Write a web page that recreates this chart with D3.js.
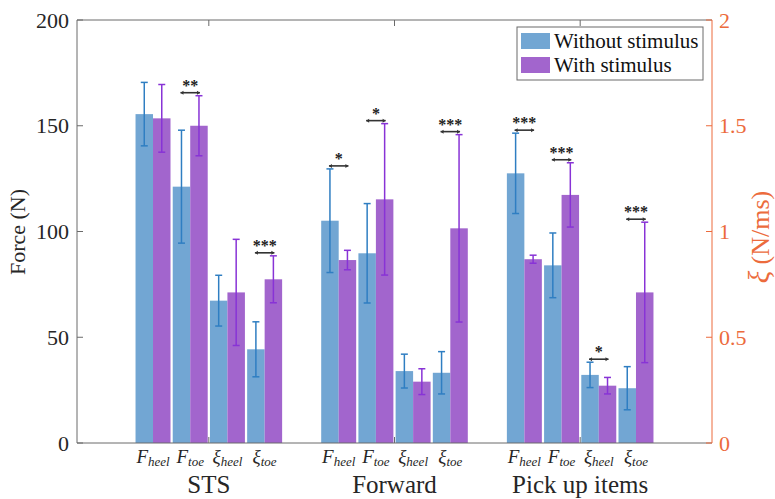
<!DOCTYPE html>
<html>
<head>
<meta charset="utf-8">
<script src="https://cdn.jsdelivr.net/npm/d3@7"></script>
<style>
  html, body { margin: 0; padding: 0; background: #fff; }
  svg { display: block; }
  svg text, svg tspan { font-family: "Liberation Serif" !important; }
</style>
</head>
<body>
<svg id="chart" width="775" height="499"></svg>
<script>
// ---------- data ----------
const groups = ["STS", "Forward", "Pick up items"];
const categories = ["Fheel", "Ftoe", "xiheel", "xitoe"];
const categoryLabels = [
  { base: "F", sub: "heel" }, { base: "F", sub: "toe" },
  { base: "ξ", sub: "heel" }, { base: "ξ", sub: "toe" }
];
const series = ["Without stimulus", "With stimulus"];
// Force in N (first two categories), ξ in N/ms (last two categories)
const withoutMean = [[155.5, 121.2, 0.673, 0.443], [105.1, 89.7, 0.340, 0.332], [127.5, 84.0, 0.322, 0.259]];
const withoutSD   = [[15.0, 26.7, 0.120, 0.130], [24.5, 23.5, 0.080, 0.100], [19.0, 15.3, 0.060, 0.102]];
const withMean    = [[153.5, 150.0, 0.712, 0.774], [86.5, 115.2, 0.290, 1.015], [86.9, 117.3, 0.271, 0.712]];
const withSD      = [[16.0, 14.2, 0.251, 0.111], [4.6, 35.8, 0.061, 0.443], [1.9, 15.2, 0.039, 0.332]];
const leftTicks = [0, 50, 100, 150, 200];
const rightTicks = [0, 0.5, 1, 1.5, 2];
const significance = [
  { g: 0, c: 1, label: "**" }, { g: 0, c: 3, label: "***" },
  { g: 1, c: 0, label: "*" }, { g: 1, c: 1, label: "*" }, { g: 1, c: 3, label: "***" },
  { g: 2, c: 0, label: "***" }, { g: 2, c: 1, label: "***" }, { g: 2, c: 2, label: "*" }, { g: 2, c: 3, label: "***" }
];

// ---------- styles ----------
const barColors = ["#72A6D3", "#A265CD"];
const errColors = ["#2F7EC2", "#8833D6"];
const axisGray = "#6a6a6a";
const orange = "#EC6B3C";

const L = 77, R = 712, T = 20, B = 443;
const svg = d3.select("#chart");

const yLeft = d3.scaleLinear().domain([0, 200]).range([B, T]);
const yRight = d3.scaleLinear().domain([0, 2]).range([B, T]);
const xGroup = d3.scaleLinear().domain([0.29, 3.71]).range([L, R]);
const xCat = d3.scaleBand().domain(categories).range([-73.3, 73.3]).paddingInner(0.06);
const xSer = d3.scaleBand().domain(series).range([0, xCat.bandwidth()]);

function yFor(ci) { return ci < 2 ? yLeft : yRight; }
function txt(sel) { return sel.append("text").style("font-family", '"Liberation Serif"'); }

// flatten records
const records = [];
groups.forEach((g, gi) => {
  categories.forEach((c, ci) => {
    [[withoutMean, withoutSD], [withMean, withSD]].forEach(([m, s], si) => {
      records.push({ gi, ci, si, mean: m[gi][ci], sd: s[gi][ci] });
    });
  });
});
function xLeft(r) { return xGroup(r.gi + 1) + xCat(categories[r.ci]) + xSer(series[r.si]); }
function xMid(r) { return xLeft(r) + xSer.bandwidth() / 2; }

// bars
svg.append("g").selectAll("rect").data(records).join("rect")
  .attr("x", d => xLeft(d))
  .attr("width", xSer.bandwidth())
  .attr("y", d => yFor(d.ci)(d.mean))
  .attr("height", d => B - yFor(d.ci)(d.mean))
  .attr("fill", d => barColors[d.si]);

// error bars
const eb = svg.append("g").attr("stroke-width", 1.5);
records.forEach(d => {
  const y = yFor(d.ci), x = xMid(d), cw = 3.5;
  const y1 = y(d.mean + d.sd), y0 = y(d.mean - d.sd);
  const col = errColors[d.si];
  eb.append("line").attr("x1", x).attr("x2", x).attr("y1", y1).attr("y2", y0).attr("stroke", col);
  eb.append("line").attr("x1", x - cw).attr("x2", x + cw).attr("y1", y1).attr("y2", y1).attr("stroke", col);
  eb.append("line").attr("x1", x - cw).attr("x2", x + cw).attr("y1", y0).attr("y2", y0).attr("stroke", col);
});

// significance brackets
const sg = svg.append("g");
significance.forEach(s => {
  const rs = records.filter(r => r.gi === s.g && r.ci === s.c);
  const y = yFor(s.c);
  const top = d3.min(rs, r => y(r.mean + r.sd)) - 3;
  const x0 = xMid(rs[0]) - 1, x1 = xMid(rs[1]) + 1;
  sg.append("line").attr("x1", x0).attr("x2", x1).attr("y1", top).attr("y2", top)
    .attr("stroke", "#333").attr("stroke-width", 1.6);
  sg.append("path").attr("d", `M${x0},${top}l3,-2v4z M${x1},${top}l-3,-2v4z`).attr("fill", "#333");
  txt(sg).attr("x", (x0 + x1) / 2).attr("y", top - 2)
    .attr("text-anchor", "middle").style("font-size", "16px").style("font-weight", "bold")
    .attr("fill", "#222").text(s.label);
});

// axes frame
const ax = svg.append("g");
ax.append("line").attr("x1", L).attr("x2", R).attr("y1", T).attr("y2", T).attr("stroke", axisGray);
ax.append("line").attr("x1", L).attr("x2", R).attr("y1", B).attr("y2", B).attr("stroke", axisGray);
ax.append("line").attr("x1", L).attr("x2", L).attr("y1", T).attr("y2", B).attr("stroke", axisGray);
ax.append("line").attr("x1", R).attr("x2", R).attr("y1", T).attr("y2", B).attr("stroke", orange);

// left ticks
leftTicks.forEach(t => {
  ax.append("line").attr("x1", L).attr("x2", L + 6).attr("y1", yLeft(t)).attr("y2", yLeft(t)).attr("stroke", axisGray);
  txt(ax).attr("x", L - 8).attr("y", yLeft(t)).attr("dy", "0.35em")
    .attr("text-anchor", "end").style("font-size", "22px").attr("fill", "#262626").text(t);
});
// right ticks
rightTicks.forEach(t => {
  ax.append("line").attr("x1", R - 6).attr("x2", R).attr("y1", yRight(t)).attr("y2", yRight(t)).attr("stroke", orange);
  txt(ax).attr("x", R + 7).attr("y", yRight(t)).attr("dy", "0.35em")
    .attr("text-anchor", "start").style("font-size", "22px").attr("fill", orange).text(t);
});
// group ticks (top and bottom, inward) and labels
groups.forEach((g, gi) => {
  const x = xGroup(gi + 1);
  ax.append("line").attr("x1", x).attr("x2", x).attr("y1", B).attr("y2", B - 6).attr("stroke", axisGray);
  ax.append("line").attr("x1", x).attr("x2", x).attr("y1", T).attr("y2", T + 6).attr("stroke", axisGray);
  txt(ax).attr("x", x).attr("y", 493).attr("text-anchor", "middle")
    .style("font-size", "25px").attr("fill", "#262626").text(g);
  categoryLabels.forEach((cl, ci) => {
    const cx = x + xCat(categories[ci]) + xCat.bandwidth() / 2;
    const t = txt(ax).attr("x", cx).attr("y", 463).attr("text-anchor", "middle")
      .attr("fill", "#262626").style("font-style", "italic");
    t.append("tspan").style("font-size", "19px").text(cl.base);
    t.append("tspan").style("font-size", "13px").attr("dy", 3).text(cl.sub);
  });
});

// axis labels
txt(svg).attr("transform", `translate(25,232) rotate(-90)`)
  .attr("text-anchor", "middle").style("font-size", "22px").attr("fill", "#262626").text("Force (N)");
const rl = txt(svg).attr("transform", `translate(769,237) rotate(-90)`)
  .attr("text-anchor", "middle").style("font-size", "26px").attr("fill", orange);
rl.append("tspan").style("font-style", "italic").style("font-size", "29px").text("ξ");
rl.append("tspan").text(" (N/ms)");

// legend
const lg = svg.append("g");
lg.append("rect").attr("x", 517).attr("y", 27).attr("width", 186).attr("height", 53)
  .attr("fill", "#fff").attr("stroke", "#6a6a6a");
series.forEach((s, si) => {
  const y = 33 + si * 24;
  lg.append("rect").attr("x", 521).attr("y", y).attr("width", 29).attr("height", 16).attr("fill", barColors[si]);
  txt(lg).attr("x", 554).attr("y", y + 8).attr("dy", "0.35em")
    .style("font-size", "21px").attr("fill", "#111").text(s);
});
</script>
</body>
</html>
